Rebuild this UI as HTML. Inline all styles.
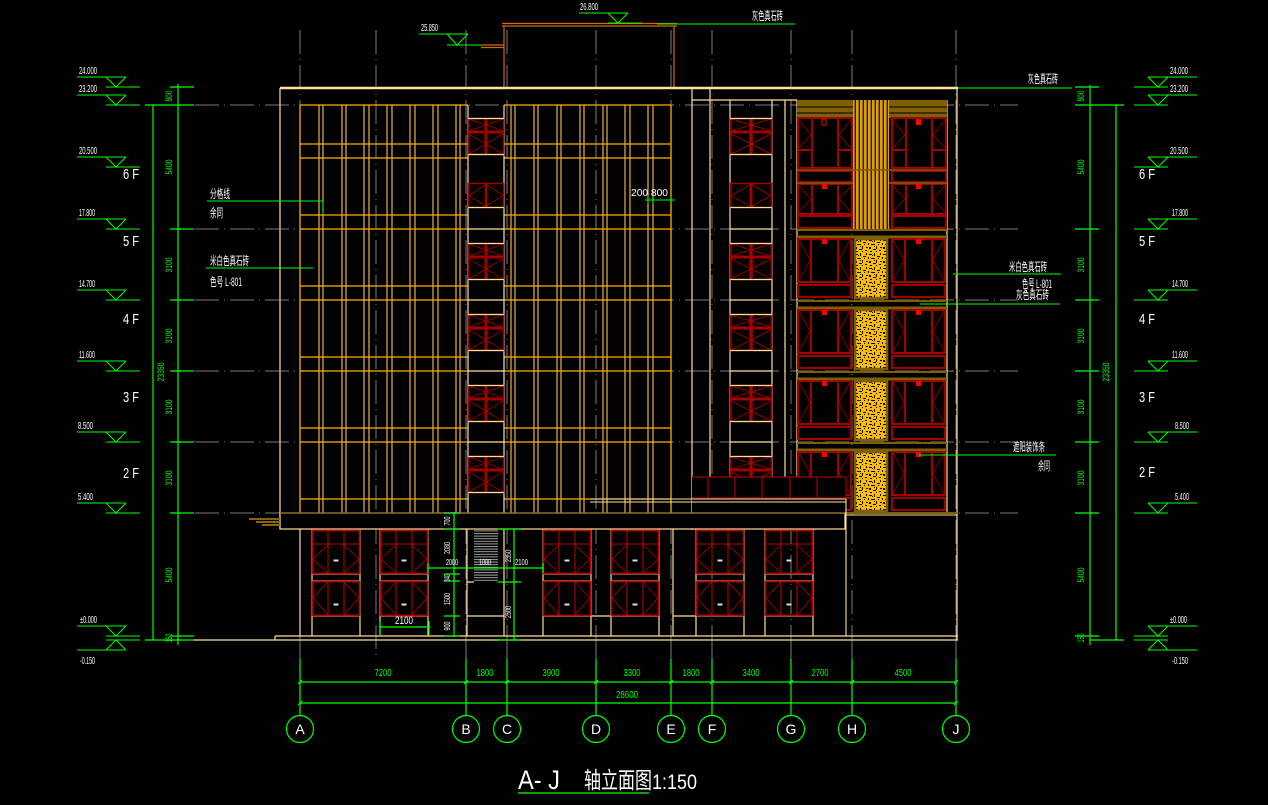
<!DOCTYPE html>
<html><head><meta charset="utf-8">
<style>
html,body{margin:0;padding:0;background:#000;}
svg{display:block;}
text{font-family:"Liberation Sans","Noto Sans CJK SC",sans-serif;}
</style></head><body>
<svg width="1268" height="805" viewBox="0 0 1268 805" xmlns="http://www.w3.org/2000/svg">
<rect width="1268" height="805" fill="#000"/>
<defs>
<pattern id="vs" width="4" height="10" patternUnits="userSpaceOnUse"><rect width="4" height="10" fill="#241800"/><rect width="2.6" height="10" fill="#dca000"/></pattern>
<pattern id="nz" width="14" height="14" patternUnits="userSpaceOnUse"><rect width="14" height="14" fill="#ffbb00"/>
<g fill="#000">
<rect x="1" y="2" width="3" height="1"/><rect x="6" y="1" width="1" height="3"/><rect x="9" y="4" width="3" height="1"/><rect x="3" y="6" width="4" height="1"/><rect x="8" y="8" width="1" height="3"/><rect x="1" y="9" width="2" height="2"/><rect x="5" y="11" width="3" height="1"/><rect x="11" y="12" width="2" height="1"/><rect x="4" y="3" width="1" height="1"/><rect x="12" y="1" width="1" height="2"/><rect x="10" y="6" width="1" height="1"/><rect x="0" y="5" width="1" height="2"/><rect x="6" y="8" width="1" height="1"/><rect x="2" y="13" width="2" height="1"/><rect x="12" y="9" width="2" height="1"/><rect x="8" y="13" width="1" height="1"/>
</g></pattern>
<pattern id="st" width="10" height="2.6" patternUnits="userSpaceOnUse"><rect width="10" height="1" fill="#a0a0a0"/></pattern>
<g id="cwA" fill="none" stroke="#a00000">
 <rect x="0.5" y="0.5" width="35" height="36" stroke-width="1.5"/>
 <path d="M0,14H36 M18,0V37" stroke-width="3"/>
 <path d="M1,1L18,7L35,1 M1,13L18,7L35,13 M1,16L18,26L35,16 M1,36L18,26L35,36" stroke-width="0.9"/>
 <path d="M0,0.5H36 M0,36.5H36" stroke="#ffdf9a" stroke-width="1.2"/>
</g>
<g id="cwB" fill="none" stroke="#a00000">
 <rect x="0.5" y="0.5" width="35" height="24" stroke-width="1.5"/>
 <path d="M18,0V25" stroke-width="2.5"/>
 <path d="M1,12.5L17,2 M1,12.5L17,23 M35,12.5L19,2 M35,12.5L19,23" stroke-width="0.9"/>
 <path d="M0,24.5H36" stroke="#ffdf9a" stroke-width="1.2"/>
</g>
<g id="pu" fill="none" stroke="#c00000">
 <rect x="0.5" y="0.5" width="47" height="43" stroke-width="1.6"/>
 <path d="M0,14H48 M16,0V44 M32,0V44" stroke-width="1"/>
 <path d="M16,15L1,29L16,43 M32,15L47,29L32,43" stroke-width="0.8"/>
 <rect x="21.5" y="29.5" width="5" height="2" fill="#ddd" stroke="none"/>
</g>
<g id="pl" fill="none" stroke="#c00000">
 <rect x="0.5" y="0.5" width="47" height="34" stroke-width="1.6"/>
 <path d="M16,0V35 M32,0V35" stroke-width="1"/>
 <path d="M16,1L1,17L16,34 M32,1L47,17L32,34" stroke-width="0.8"/>
 <rect x="21.5" y="22.5" width="5" height="2" fill="#ddd" stroke="none"/>
</g>
<g id="rw" fill="none" stroke="#a00000">
 <rect x="1" y="1" width="53" height="43" stroke-width="2"/>
 <path d="M14,1V44 M41,1V44" stroke-width="2"/>
 <path d="M2,2L13,22L2,43 M53,2L42,22L53,43" stroke-width="0.8"/>
 <rect x="1" y="47" width="53" height="12" stroke-width="2"/>
</g>
<g id="lmk" fill="none" stroke="#00ff00" stroke-width="1">
 <path d="M77,0H126 M106,0L116,10L126,0 M106,10H140"/>
</g>
<g id="rmk" fill="none" stroke="#00ff00" stroke-width="1">
 <path d="M1148,0H1197 M1148,0L1158,10L1168,0 M1134,10H1168"/>
</g>
</defs>

<!-- grey axis dashed lines -->
<g stroke="#7a7a7a" stroke-width="1" stroke-dasharray="24 5 1 5" fill="none">
 <path d="M300,30V640 M376,30V658 M466,30V640 M507,30V640 M596,30V640 M671,30V640 M712,30V640 M791,30V640 M852,30V640 M956,30V640"/>
 <path d="M195,105H1018 M195,229H1018 M195,300H1018 M195,371H1018 M195,442H1018 M195,513H1018"/>
</g>
<g stroke="#7a7a7a" stroke-width="1"><path d="M300,640V659 M466,640V659 M507,640V659 M596,640V659 M671,640V659 M712,640V659 M791,640V659 M852,640V659 M956,640V659"/></g>

<!-- roof bump -->
<g stroke="#d06a10" fill="none" stroke-width="1.2">
 <path d="M502,23.5H677 M502,26H677 M504,26V88 M674,26V88 M481,45H504 M481,47.5H504"/>
</g>

<!-- parapet -->
<path d="M280,88H958" stroke="#ffe29a" stroke-width="2.5"/>
<g stroke="#ffdf9a" stroke-width="1.2" fill="none">
 <path d="M280,88V529 M692,88V530 M710,88V477 M692,100H797 M957,88V640 M947,100V513"/>
</g>

<!-- curtain wall -->
<g stroke="#ffc04d" stroke-width="1.1" fill="none">
 <path d="M319,105V513 M323,105V513 M342,105V513 M346,105V513 M364,105V513 M369,105V513 M387,105V513 M392,105V513 M410,105V513 M415,105V513 M433,105V513 M438,105V513 M456,105V513 M460,105V513 M511,105V513 M515,105V513 M534,105V513 M538,105V513 M557,105V513 M561,105V513 M580,105V513 M584,105V513 M603,105V513 M607,105V513 M625,105V513 M630,105V513 M648,105V513 M653,105V513"/>
</g>
<g stroke="#ffb000" stroke-width="1.3" fill="none">
 <path d="M300,105V513 M671,105V513"/>
 <path d="M300,105H468 M504,105H671 M300,144H468 M504,144H671 M300,158H468 M504,158H671 M300,215H468 M504,215H671 M300,229H468 M504,229H671 M300,286H468 M504,286H671 M300,300H468 M504,300H671 M300,357H468 M504,357H671 M300,371H468 M504,371H671 M300,428H468 M504,428H671 M300,442H468 M504,442H671 M300,499H468 M504,499H671"/>
</g>

<!-- window columns -->
<g stroke="#ffdf9a" stroke-width="1.2" fill="none">
 <path d="M468,105V513 M504,105V513 M468,229H504 M468,300H504 M468,371H504 M468,442H504"/>
 <path d="M730,100V477 M772,100V477 M785,100V477 M797,100V513 M730,229H772 M730,300H772 M730,371H772 M730,442H772"/>
</g>
<use href="#cwA" x="468" y="118"/>
<use href="#cwB" x="468" y="183"/>
<use href="#cwA" x="468" y="243"/>
<use href="#cwA" x="468" y="314"/>
<use href="#cwA" x="468" y="385"/>
<use href="#cwA" x="468" y="456"/>
<use href="#cwA" transform="translate(730,118) scale(1.1667,1)"/>
<use href="#cwB" transform="translate(730,183) scale(1.1667,1)"/>
<use href="#cwA" transform="translate(730,243) scale(1.1667,1)"/>
<use href="#cwA" transform="translate(730,314) scale(1.1667,1)"/>
<use href="#cwA" transform="translate(730,385) scale(1.1667,1)"/>
<use href="#cwA" transform="translate(730,456) scale(1.1667,1)"/>

<!-- right panel top section -->
<rect x="797" y="100" width="56" height="18" fill="#7f5f00"/>
<rect x="889" y="100" width="58" height="18" fill="#7f5f00"/>
<path d="M797,107H853 M889,107H947 M797,113H853 M889,113H947" stroke="#000" stroke-width="1"/>
<rect x="853" y="100" width="36" height="129" fill="url(#vs)"/>
<g fill="none" stroke="#a00000" stroke-width="2">
 <rect x="798" y="118" width="54" height="50"/><rect x="892" y="118" width="54" height="50"/>
 <path d="M812,118V168 M838,118V168 M906,118V168 M932,118V168 M798,150H812 M838,150H852 M892,150H906 M932,150H946"/>
 <rect x="798" y="171" width="54" height="11"/><rect x="892" y="171" width="54" height="11"/>
 <rect x="798" y="184" width="54" height="30"/><rect x="892" y="184" width="54" height="30"/>
 <path d="M812,184V214 M838,184V214 M906,184V214 M932,184V214"/>
 <rect x="798" y="216" width="54" height="12"/><rect x="892" y="216" width="54" height="12"/>
</g>
<path d="M799,120L811,135L799,148 M851,120L839,135L851,148 M893,120L905,135L893,148 M945,120L933,135L945,148 M799,186L811,199L799,212 M851,186L839,199L851,212 M893,186L905,199L893,212 M945,186L933,199L945,212" stroke="#a00000" stroke-width="0.8" fill="none"/>
<path d="M797,170H947 M797,183H853 M889,183H947" stroke="#7f5f00" stroke-width="1.5"/>
<rect x="822" y="119" width="4" height="6" fill="none" stroke="#ff0000" stroke-width="1"/>
<rect x="916" y="119" width="5" height="6" fill="#ff0000"/>
<rect x="822" y="184" width="5" height="5" fill="#ff0000"/><rect x="916" y="184" width="5" height="5" fill="#ff0000"/>

<!-- right panel floors -->
<g id="fl">
 <path d="M797,230H947" stroke="#7f5f00" stroke-width="2"/>
 <path d="M797,237H947" stroke="#7f5f00" stroke-width="3"/>
 <use href="#rw" x="797" y="238"/>
 <use href="#rw" x="891" y="238"/>
 <rect x="855" y="239" width="32" height="59" fill="url(#nz)" stroke="#7f5f00" stroke-width="2.5"/>
 <rect x="822" y="239" width="5" height="5" fill="#ff0000"/>
 <rect x="916" y="239" width="5" height="5" fill="#ff0000"/>
</g>
<use href="#fl" y="71"/>
<use href="#fl" y="142"/>
<use href="#fl" y="213"/>
<path d="M797,513H957" stroke="#7f5f00" stroke-width="2"/>
<path d="M845,515H957" stroke="#ffdf9a" stroke-width="1"/>

<!-- canopy -->
<rect x="692" y="477" width="154" height="36" fill="#000"/>
<g fill="none" stroke="#a00000" stroke-width="1.2">
 <path d="M692,477H846 M708,477V499 M735,477V499 M762,477V499 M790,477V499 M817,477V499 M846,477V499 M692,498H846"/>
</g>
<path d="M590,499H846 M590,502H846" stroke="#ffdf9a" stroke-width="1.1"/>
<path d="M846,499V636" stroke="#ffdf9a" stroke-width="1.1"/>

<!-- slab -->
<rect x="280" y="513" width="565" height="16" fill="#000" stroke="#ffdf9a" stroke-width="1.2"/>
<path d="M280,513H845" stroke="#8a6a20" stroke-width="1.2"/>
<g fill="#8a6400"><rect x="249" y="518" width="31" height="2"/><rect x="256" y="521" width="24" height="2"/><rect x="262" y="524" width="18" height="2"/></g>

<!-- podium -->
<g stroke="#ffdf9a" stroke-width="1.2" fill="none">
 <path d="M300,529V636 M312,529V636 M360,529V636 M380,529V636 M428,529V636 M467,529V636 M504,529V636 M543,529V636 M591,529V636 M611,529V636 M659,529V636 M673,529V636 M696,529V636 M744,529V636 M765,529V636 M813,529V636"/>
 <path d="M312,574H360 M312,581H360 M312,616H360 M380,574H428 M380,581H428 M380,616H428 M543,574H591 M543,581H591 M543,616H591 M611,574H659 M611,581H659 M611,616H659 M696,574H744 M696,581H744 M696,616H744 M765,574H813 M765,581H813 M765,616H813 M467,582H474 M467,616H504 M591,616H611 M673,616H696"/>
 <path d="M275,636H958 M275,636V640"/>
</g>
<path d="M194,640H958" stroke="#ffdf9a" stroke-width="1.2"/>
<use href="#pu" x="312" y="530"/><use href="#pl" x="312" y="581"/>
<use href="#pu" x="380" y="530"/><use href="#pl" x="380" y="581"/>
<use href="#pu" x="543" y="530"/><use href="#pl" x="543" y="581"/>
<use href="#pu" x="611" y="530"/><use href="#pl" x="611" y="581"/>
<use href="#pu" x="696" y="530"/><use href="#pl" x="696" y="581"/>
<use href="#pu" x="765" y="530"/><use href="#pl" x="765" y="581"/>
<rect x="474" y="530" width="24" height="52" fill="url(#st)"/>

<!-- podium dims -->
<g stroke="#00ff00" stroke-width="1.2" fill="none">
 <path d="M454,512V637 M444,513H460 M444,529H460 M444,574H460 M444,581H460 M444,616H460 M444,636H460"/>
 <path d="M428,568H543 M428,563V573 M543,563V573 M514,529V640 M497,529H521 M498,582H521 M498,640H521"/>
 <path d="M380,627H430 M380,621V636 M429,621V636"/>
</g>
<g fill="#fff" font-size="8">
 <text transform="translate(450,521) rotate(-90)" text-anchor="middle" textLength="9" lengthAdjust="spacingAndGlyphs">700</text>
 <text transform="translate(450,548) rotate(-90)" text-anchor="middle" textLength="12" lengthAdjust="spacingAndGlyphs">2080</text>
 <text x="446" y="565" textLength="12" lengthAdjust="spacingAndGlyphs">2000</text>
 <text transform="translate(450,578) rotate(-90)" text-anchor="middle" textLength="7" lengthAdjust="spacingAndGlyphs">340</text>
 <text transform="translate(450,599) rotate(-90)" text-anchor="middle" textLength="12" lengthAdjust="spacingAndGlyphs">1500</text>
 <text transform="translate(450,626) rotate(-90)" text-anchor="middle" textLength="9" lengthAdjust="spacingAndGlyphs">900</text>
 <text x="479" y="565" textLength="12" lengthAdjust="spacingAndGlyphs">1000</text>
 <text x="515" y="565" textLength="13" lengthAdjust="spacingAndGlyphs">2100</text>
 <text transform="translate(511,556) rotate(-90)" text-anchor="middle" textLength="12" lengthAdjust="spacingAndGlyphs">2350</text>
 <text transform="translate(511,612) rotate(-90)" text-anchor="middle" textLength="12" lengthAdjust="spacingAndGlyphs">2500</text>
 <text x="395" y="624" font-size="11" textLength="18" lengthAdjust="spacingAndGlyphs">2100</text>
</g>

<!-- top level markers -->
<g stroke="#00ff00" stroke-width="1" fill="none">
 <path d="M579,13H628 M608,13L618,23L628,13 M608,23H642 M657,24H795"/>
 <path d="M419,34H468 M447,34L457,45L468,34 M447,45H481"/>
 <path d="M645,200H675 M648,196V204 M653,196V204 M671,196V204"/>
</g>
<g fill="#fff" font-size="10">
 <text x="580" y="10" textLength="18" lengthAdjust="spacingAndGlyphs">26.800</text>
 <text x="421" y="31" textLength="17" lengthAdjust="spacingAndGlyphs">25.850</text>
 <text x="752" y="20" font-size="12" textLength="31" lengthAdjust="spacingAndGlyphs">灰色真石砖</text>
 <text x="631" y="196" textLength="37" lengthAdjust="spacingAndGlyphs">200  800</text>
</g>

<!-- annotations -->
<g stroke="#00ff00" stroke-width="1" fill="none">
 <path d="M207,201H323V215 M206,268H313"/>
 <path d="M958,88H1072 M953,274H1061 M920,304H1060 M919,455H1056"/>
</g>
<g fill="#fff" font-size="12">
 <text x="210" y="198" textLength="20" lengthAdjust="spacingAndGlyphs">分格线</text>
 <text x="210" y="217" textLength="13" lengthAdjust="spacingAndGlyphs">余同</text>
 <text x="210" y="265" textLength="39" lengthAdjust="spacingAndGlyphs">米白色真石砖</text>
 <text x="210" y="286" textLength="32" lengthAdjust="spacingAndGlyphs">色号 L-801</text>
 <text x="1028" y="83" textLength="30" lengthAdjust="spacingAndGlyphs">灰色真石砖</text>
 <text x="1009" y="271" textLength="38" lengthAdjust="spacingAndGlyphs">米白色真石砖</text>
 <text x="1022" y="288" textLength="30" lengthAdjust="spacingAndGlyphs">色号 L-801</text>
 <text x="1016" y="299" textLength="33" lengthAdjust="spacingAndGlyphs">灰色真石砖</text>
 <text x="1013" y="451" textLength="32" lengthAdjust="spacingAndGlyphs">遮阳装饰条</text>
 <text x="1038" y="470" textLength="12" lengthAdjust="spacingAndGlyphs">余同</text>
</g>

<!-- level markers -->
<use href="#lmk" y="77"/><use href="#lmk" y="95"/><use href="#lmk" y="157"/><use href="#lmk" y="219"/>
<use href="#lmk" y="290"/><use href="#lmk" y="361"/><use href="#lmk" y="432"/><use href="#lmk" y="503"/>
<use href="#rmk" y="77"/><use href="#rmk" y="95"/><use href="#rmk" y="157"/><use href="#rmk" y="219"/>
<use href="#rmk" y="290"/><use href="#rmk" y="361"/><use href="#rmk" y="432"/><use href="#rmk" y="503"/>
<g stroke="#00ff00" stroke-width="1" fill="none">
 <path d="M77,626H126 M106,626L116,636L126,626 M106,636H140 M106,640H140 M106,650L116,640L126,650 M77,650H126"/>
 <path d="M1148,626H1197 M1148,626L1158,636L1168,626 M1134,636H1168 M1134,640H1168 M1148,650L1158,640L1168,650 M1148,650H1197"/>
</g>
<g fill="#fff" font-size="10">
 <text x="79" y="74" textLength="18" lengthAdjust="spacingAndGlyphs">24.000</text>
 <text x="79" y="92" textLength="18" lengthAdjust="spacingAndGlyphs">23.200</text>
 <text x="79" y="154" textLength="18" lengthAdjust="spacingAndGlyphs">20.500</text>
 <text x="79" y="216" textLength="16" lengthAdjust="spacingAndGlyphs">17.800</text>
 <text x="79" y="287" textLength="16" lengthAdjust="spacingAndGlyphs">14.700</text>
 <text x="79" y="358" textLength="16" lengthAdjust="spacingAndGlyphs">11.600</text>
 <text x="78" y="429" textLength="15" lengthAdjust="spacingAndGlyphs">8.500</text>
 <text x="78" y="500" textLength="15" lengthAdjust="spacingAndGlyphs">5.400</text>
 <text x="80" y="623" textLength="17" lengthAdjust="spacingAndGlyphs">±0.000</text>
 <text x="80" y="664" textLength="15" lengthAdjust="spacingAndGlyphs">-0.150</text>
 <text x="1170" y="74" textLength="18" lengthAdjust="spacingAndGlyphs">24.000</text>
 <text x="1170" y="92" textLength="18" lengthAdjust="spacingAndGlyphs">23.200</text>
 <text x="1170" y="154" textLength="18" lengthAdjust="spacingAndGlyphs">20.500</text>
 <text x="1172" y="216" textLength="16" lengthAdjust="spacingAndGlyphs">17.800</text>
 <text x="1172" y="287" textLength="16" lengthAdjust="spacingAndGlyphs">14.700</text>
 <text x="1172" y="358" textLength="16" lengthAdjust="spacingAndGlyphs">11.600</text>
 <text x="1175" y="429" textLength="14" lengthAdjust="spacingAndGlyphs">8.500</text>
 <text x="1175" y="500" textLength="14" lengthAdjust="spacingAndGlyphs">5.400</text>
 <text x="1170" y="623" textLength="17" lengthAdjust="spacingAndGlyphs">±0.000</text>
 <text x="1172" y="664" textLength="16" lengthAdjust="spacingAndGlyphs">-0.150</text>
</g>
<g fill="#fff" font-size="15">
 <text x="123" y="179" textLength="16" lengthAdjust="spacingAndGlyphs">6 F</text>
 <text x="123" y="246" textLength="16" lengthAdjust="spacingAndGlyphs">5 F</text>
 <text x="123" y="324" textLength="16" lengthAdjust="spacingAndGlyphs">4 F</text>
 <text x="123" y="402" textLength="16" lengthAdjust="spacingAndGlyphs">3 F</text>
 <text x="123" y="478" textLength="16" lengthAdjust="spacingAndGlyphs">2 F</text>
 <text x="1139" y="179" textLength="16" lengthAdjust="spacingAndGlyphs">6 F</text>
 <text x="1139" y="246" textLength="16" lengthAdjust="spacingAndGlyphs">5 F</text>
 <text x="1139" y="324" textLength="16" lengthAdjust="spacingAndGlyphs">4 F</text>
 <text x="1139" y="402" textLength="16" lengthAdjust="spacingAndGlyphs">3 F</text>
 <text x="1139" y="477" textLength="16" lengthAdjust="spacingAndGlyphs">2 F</text>
</g>

<!-- vertical dims -->
<g stroke="#00ff00" stroke-width="1.2" fill="none">
 <path d="M178,84V645 M153,105V640 M145,105H194 M145,640H194"/>
 <path d="M170,87H194 M170,229H194 M170,300H194 M170,371H194 M170,442H194 M170,513H194 M170,636H194"/>
 <path d="M1090,85V645 M1116,105V640 M1075,105H1124 M1090,640H1124"/>
 <path d="M1075,87H1099 M1075,229H1099 M1075,300H1099 M1075,371H1099 M1075,442H1099 M1075,513H1099 M1075,636H1099"/>
</g>
<g fill="#00ff00" font-size="9">
 <text transform="translate(172,96) rotate(-90)" text-anchor="middle" textLength="11" lengthAdjust="spacingAndGlyphs">800</text>
 <text transform="translate(172,167) rotate(-90)" text-anchor="middle" textLength="15" lengthAdjust="spacingAndGlyphs">5400</text>
 <text transform="translate(172,265) rotate(-90)" text-anchor="middle" textLength="15" lengthAdjust="spacingAndGlyphs">3100</text>
 <text transform="translate(172,336) rotate(-90)" text-anchor="middle" textLength="15" lengthAdjust="spacingAndGlyphs">3100</text>
 <text transform="translate(172,407) rotate(-90)" text-anchor="middle" textLength="15" lengthAdjust="spacingAndGlyphs">3100</text>
 <text transform="translate(172,478) rotate(-90)" text-anchor="middle" textLength="15" lengthAdjust="spacingAndGlyphs">3100</text>
 <text transform="translate(172,575) rotate(-90)" text-anchor="middle" textLength="15" lengthAdjust="spacingAndGlyphs">5400</text>
 <text transform="translate(172,638) rotate(-90)" text-anchor="middle" textLength="9" lengthAdjust="spacingAndGlyphs">150</text>
 <text transform="translate(164,372) rotate(-90)" text-anchor="middle" textLength="19" lengthAdjust="spacingAndGlyphs">23350</text>
 <text transform="translate(1084,96) rotate(-90)" text-anchor="middle" textLength="11" lengthAdjust="spacingAndGlyphs">800</text>
 <text transform="translate(1084,167) rotate(-90)" text-anchor="middle" textLength="15" lengthAdjust="spacingAndGlyphs">5400</text>
 <text transform="translate(1084,265) rotate(-90)" text-anchor="middle" textLength="15" lengthAdjust="spacingAndGlyphs">3100</text>
 <text transform="translate(1084,336) rotate(-90)" text-anchor="middle" textLength="15" lengthAdjust="spacingAndGlyphs">3100</text>
 <text transform="translate(1084,407) rotate(-90)" text-anchor="middle" textLength="15" lengthAdjust="spacingAndGlyphs">3100</text>
 <text transform="translate(1084,478) rotate(-90)" text-anchor="middle" textLength="15" lengthAdjust="spacingAndGlyphs">3100</text>
 <text transform="translate(1084,575) rotate(-90)" text-anchor="middle" textLength="15" lengthAdjust="spacingAndGlyphs">5400</text>
 <text transform="translate(1084,638) rotate(-90)" text-anchor="middle" textLength="9" lengthAdjust="spacingAndGlyphs">150</text>
 <text transform="translate(1109,372) rotate(-90)" text-anchor="middle" textLength="19" lengthAdjust="spacingAndGlyphs">23350</text>
</g>

<!-- bottom dims & axis -->
<g stroke="#00ff00" stroke-width="1.2" fill="none">
 <path d="M300,682H956 M300,703H956"/>
 <path d="M300,659V715 M466,659V715 M507,659V715 M596,659V715 M671,659V715 M712,659V715 M791,659V715 M852,659V715 M956,659V715"/>
 <path d="M298,684l4,-4 M464,684l4,-4 M505,684l4,-4 M594,684l4,-4 M669,684l4,-4 M710,684l4,-4 M789,684l4,-4 M850,684l4,-4 M954,684l4,-4 M298,705l4,-4 M954,705l4,-4"/>
 <circle cx="300" cy="729" r="13.5"/><circle cx="466" cy="729" r="13.5"/><circle cx="507" cy="729" r="13.5"/>
 <circle cx="596" cy="729" r="13.5"/><circle cx="671" cy="729" r="13.5"/><circle cx="712" cy="729" r="13.5"/>
 <circle cx="791" cy="729" r="13.5"/><circle cx="852" cy="729" r="13.5"/><circle cx="956" cy="729" r="13.5"/>
</g>
<g fill="#00ff00" font-size="10" text-anchor="middle">
 <text x="383" y="676" textLength="17" lengthAdjust="spacingAndGlyphs">7200</text>
 <text x="485" y="676" textLength="17" lengthAdjust="spacingAndGlyphs">1800</text>
 <text x="551" y="676" textLength="17" lengthAdjust="spacingAndGlyphs">3900</text>
 <text x="632" y="676" textLength="17" lengthAdjust="spacingAndGlyphs">3300</text>
 <text x="691" y="676" textLength="17" lengthAdjust="spacingAndGlyphs">1800</text>
 <text x="751" y="676" textLength="17" lengthAdjust="spacingAndGlyphs">3400</text>
 <text x="820" y="676" textLength="17" lengthAdjust="spacingAndGlyphs">2700</text>
 <text x="903" y="676" textLength="17" lengthAdjust="spacingAndGlyphs">4500</text>
 <text x="627" y="698" textLength="22" lengthAdjust="spacingAndGlyphs">28600</text>
</g>
<g fill="#fff" font-size="14" text-anchor="middle">
 <text x="300" y="734">A</text><text x="466" y="734">B</text><text x="507" y="734">C</text>
 <text x="596" y="734">D</text><text x="671" y="734">E</text><text x="712" y="734">F</text>
 <text x="791" y="734">G</text><text x="852" y="734">H</text><text x="956" y="734">J</text>
</g>

<!-- title -->
<text x="518" y="789" fill="#fff" font-size="27" textLength="42" lengthAdjust="spacingAndGlyphs">A- J</text>
<text x="584" y="788" fill="#fff" font-size="23" textLength="68" lengthAdjust="spacingAndGlyphs">轴立面图</text>
<text x="652" y="789" fill="#fff" font-size="21" textLength="45" lengthAdjust="spacingAndGlyphs">1:150</text>
<path d="M518,793H649" stroke="#00ff00" stroke-width="1.2"/>
</svg>
</body></html>
